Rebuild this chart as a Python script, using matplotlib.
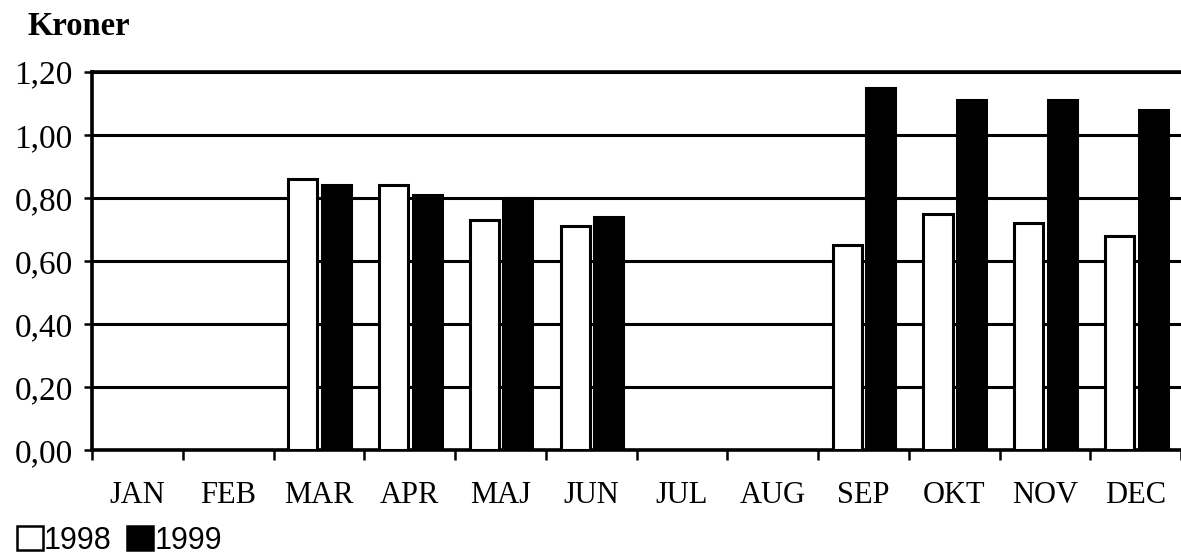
import matplotlib.pyplot as plt
from matplotlib.patches import Patch
from matplotlib.ticker import FixedLocator

# data (Kroner)
months = ['JAN', 'FEB', 'MAR', 'APR', 'MAJ', 'JUN', 'JUL', 'AUG', 'SEP', 'OKT', 'NOV', 'DEC']
v1998 = [0, 0, 0.86, 0.84, 0.73, 0.71, 0, 0, 0.65, 0.75, 0.72, 0.68]
v1999 = [0, 0, 0.84, 0.81, 0.80, 0.74, 0, 0, 1.15, 1.11, 1.11, 1.08]
yticks = [0.0, 0.2, 0.4, 0.6, 0.8, 1.0, 1.2]
ytick_labels = ['0,00', '0,20', '0,40', '0,60', '0,80', '1,00', '1,20']

plt.rcParams['font.family'] = ['Liberation Serif', 'DejaVu Serif']

fig = plt.figure(figsize=(11.81, 5.58), dpi=100)
ax = fig.add_axes([0.078, 0.193, 0.922, 0.678])

lw = 2.2
x = list(range(len(months)))
w = 0.32
for i in x:
    if v1998[i] > 0:
        ax.bar(i - 0.178, v1998[i], width=w, color='white', edgecolor='black', linewidth=lw, zorder=3)
    if v1999[i] > 0:
        ax.bar(i + 0.192, v1999[i], width=w, color='black', edgecolor='black', linewidth=lw, zorder=3)

ax.set_xlim(-0.5, 11.5)
ax.set_ylim(0, 1.2)
ax.set_yticks(yticks)
ax.set_yticklabels(ytick_labels, fontsize=24)
ax.yaxis.grid(True, color='black', linewidth=lw)
ax.set_axisbelow(True)

ax.set_xticks(x)
ax.set_xticklabels(months, fontsize=22)
ax.tick_params(axis='x', which='major', length=0, pad=22)
ax.xaxis.set_minor_locator(FixedLocator([k - 0.5 for k in range(13)]))
ax.tick_params(axis='x', which='minor', length=7, width=1.8, direction='out')
ax.tick_params(axis='y', length=6, width=1.8, pad=8)

for s in ['left', 'bottom', 'top']:
    ax.spines[s].set_linewidth(lw + 0.4)
ax.spines['right'].set_visible(False)

fig.text(0.023, 0.952, 'Kroner', fontsize=23.5, fontweight='bold', va='center', ha='left')

handles = [Patch(facecolor='white', edgecolor='black', linewidth=1.8),
           Patch(facecolor='black', edgecolor='black', linewidth=1.8)]
fig.legend(handles, ['1998', '1999'], loc='lower left', bbox_to_anchor=(0.014, 0.004),
           ncol=2, frameon=False, handlelength=0.85, handleheight=0.85,
           handletextpad=0.05, columnspacing=0.5, borderpad=0, borderaxespad=0,
           prop={'family': 'Liberation Sans', 'size': 22})

fig.savefig('out.png', dpi=100)
